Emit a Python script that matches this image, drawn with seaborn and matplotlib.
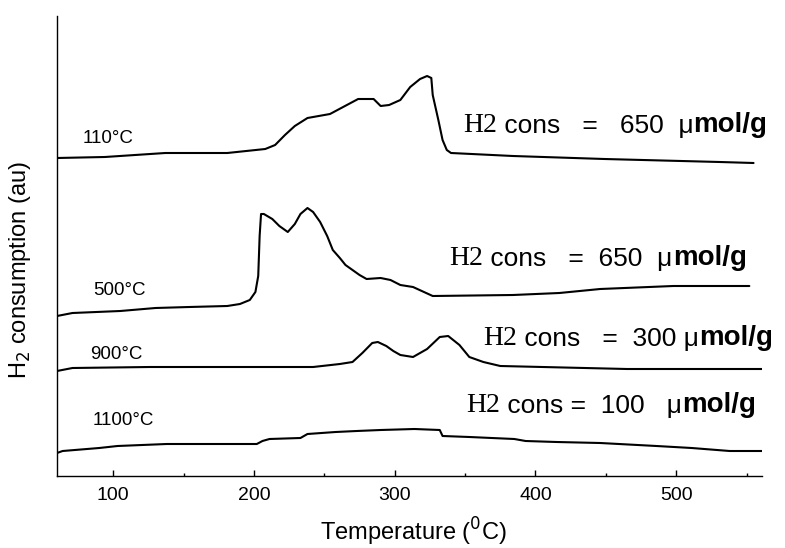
import matplotlib
matplotlib.use("Agg")
import matplotlib.pyplot as plt
import seaborn as sns
import pandas as pd

# ---- data (y in arbitrary units) ----
t_110 = [60, 94, 137, 181, 208, 215, 222, 229, 238, 254, 274, 285, 290, 296, 304, 311, 318, 323, 326, 327, 331, 334, 337, 340, 384, 449, 531, 555]
s_110 = [318, 319, 323, 323, 327, 331, 341, 350, 358, 362, 377, 377, 370, 371, 376, 389, 397, 400, 398, 381, 356, 336, 326, 323, 320, 317, 314, 313]

t_500 = [60, 71, 105, 130, 154, 181, 190, 197, 201, 203, 204, 205, 207, 213, 218, 224, 229, 233, 238, 242, 247, 252, 256, 261, 265, 275, 280, 290, 297, 304, 313, 327, 384, 417, 446, 498, 552]
s_500 = [160, 163, 165, 168, 169, 170, 172, 176, 184, 200, 240, 262, 262, 257, 250, 244, 252, 262, 268, 264, 254, 240, 226, 218, 211, 201, 197, 198, 196, 191, 189, 180, 181, 183, 187, 190, 190]

t_900 = [60, 71, 126, 242, 261, 270, 277, 284, 288, 294, 299, 304, 313, 323, 332, 338, 346, 353, 363, 375, 465, 561]
s_900 = [105, 108, 109, 109, 112, 114, 123, 133, 134, 130, 125, 121, 119, 127, 139, 140, 131, 119, 114, 110, 107, 107]

t_1100 = [60, 64, 90, 103, 138, 202, 206, 211, 233, 238, 258, 273, 290, 314, 332, 334, 353, 385, 393, 415, 446, 486, 511, 538, 561]
s_1100 = [23, 25, 28, 30, 32, 32, 35, 37, 38, 42, 44, 45, 46, 47, 46, 40, 39, 37, 35, 34, 33, 30, 28, 25, 25]

curve_labels = ["110°C", "500°C", "900°C", "1100°C"]
consumption = ["650", "650", "300", "100"]
x_ticks = [100, 200, 300, 400, 500]

frames = []
for lab, t, s in zip(curve_labels, [t_110, t_500, t_900, t_1100], [s_110, s_500, s_900, s_1100]):
    frames.append(pd.DataFrame({"T": t, "S": s, "curve": lab}))
df = pd.concat(frames, ignore_index=True)

# ---- figure ----
sns.set_theme(style="white")
plt.rcParams["font.family"] = ["Liberation Sans", "DejaVu Sans"]

fig = plt.figure(figsize=(7.85, 5.48), dpi=100)
ax = fig.add_axes([57 / 785, 1 - 476 / 548, (762 - 57) / 785, (476 - 16) / 548])

sns.lineplot(data=df, x="T", y="S", hue="curve", units="curve", estimator=None, sort=False,
             palette=["black"] * 4, legend=False, linewidth=1.5, ax=ax)

ax.set_xlim(60, 561)
ax.set_ylim(0, 460)
ax.set_xticks(x_ticks)
ax.set_xticks([150, 250, 350, 450, 550], minor=True)
ax.set_yticks([])
ax.tick_params(axis="x", which="major", direction="in", length=4.5, width=1, colors="black",
               labelsize=14, pad=8, bottom=True)
ax.tick_params(axis="x", which="minor", direction="in", length=2, width=1, colors="black", bottom=True)
for side in ["top", "right"]:
    ax.spines[side].set_visible(False)
for side in ["left", "bottom"]:
    ax.spines[side].set_color("black")
    ax.spines[side].set_linewidth(1.0)

ax.set_xlabel("Temperature ($^{\\mathsf{0}}$C)", fontsize=17, color="black")
ax.xaxis.set_label_coords(0.505, -0.087)
ax.set_ylabel("H$_{\\mathsf{2}}$ consumption (au)", fontsize=17, color="black")
ax.yaxis.set_label_coords(-0.034, 0.448)

# curve labels
lab_pos = [(78.5, 333), (85.6, 181), (83.5, 117), (85.6, 51)]
for lab, (x, y) in zip(curve_labels, lab_pos):
    ax.text(x, y, lab, fontsize=13.5, ha="left", va="baseline", color="black")

# consumption annotations
cons_pos = [(348.5, 344), (339, 211), (363, 131), (351, 64)]
gaps = ["   =   ", "   =  ", "   =  ", " =  "]
tails = ["  μ", "  μ", " μ", "   μ"]
for val, gap, tail, (x, y) in zip(consumption, gaps, tails, cons_pos):
    t1 = ax.text(x, y, "H2", fontsize=20, family=["Liberation Serif"], ha="left", va="baseline",
                 color="black")
    t2 = ax.annotate(" cons" + gap + val + tail, xy=(1, 0), xycoords=t1, va="bottom", ha="left",
                     fontsize=19, color="black")
    ax.annotate("mol/g", xy=(1, 0), xycoords=t2, va="bottom", ha="left",
                fontsize=20, fontweight="bold", color="black")

fig.savefig("out.png", dpi=100, facecolor="white")
